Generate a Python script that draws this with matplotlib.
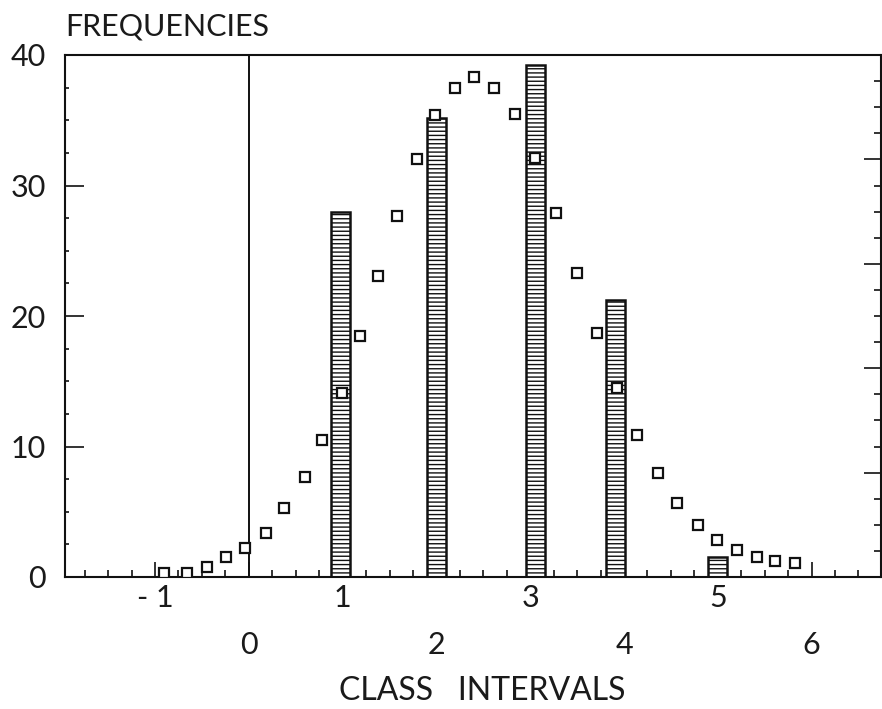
import matplotlib
matplotlib.use("Agg")
import matplotlib.pyplot as plt
from matplotlib.ticker import MultipleLocator, FixedLocator

# histogram bars (class intervals)
bar_x = [0.98, 2.0, 3.06, 3.91, 5.0]
bar_h = [28.0, 35.2, 39.2, 21.2, 1.5]

# fitted frequencies (open squares)
pt_x = [-0.90, -0.66, -0.45, -0.24, -0.04, 0.18, 0.38, 0.60, 0.78, 0.99,
        1.18, 1.38, 1.58, 1.79, 1.99, 2.20, 2.40, 2.61, 2.84, 3.05,
        3.27, 3.50, 3.71, 3.92, 4.14, 4.36, 4.57, 4.79, 4.99, 5.20,
        5.42, 5.61, 5.82]
pt_y = [0.3, 0.3, 0.8, 1.5, 2.2, 3.4, 5.3, 7.7, 10.5, 14.1,
        18.5, 23.1, 27.7, 32.0, 35.4, 37.5, 38.3, 37.5, 35.5, 32.1,
        27.9, 23.3, 18.7, 14.5, 10.9, 8.0, 5.7, 4.0, 2.8, 2.1,
        1.5, 1.2, 1.1]

x_ticks = [-1, 0, 1, 2, 3, 4, 5, 6]
y_ticks = [0, 10, 20, 30, 40]

ink = "#111111"
txt = "#1a1a1a"
plt.rcParams["hatch.linewidth"] = 1.0
plt.rcParams["font.family"] = ["Lato", "DejaVu Sans"]

fig = plt.figure(figsize=(8.82, 7.09), dpi=100)
ax = fig.add_axes([65 / 882, 1 - 577 / 709, 816 / 882, 522 / 709])

ax.bar(bar_x, bar_h, width=0.2, color="white", edgecolor=ink,
       hatch="----", linewidth=1.8, zorder=2)
ax.plot(pt_x, pt_y, ls="none", marker="s", ms=6.5, mfc="white", mec=ink,
        mew=1.6, zorder=3)
ax.axvline(0, color=ink, lw=1.4, zorder=1)

ax.set_xlim(-1.96, 6.74)
ax.set_ylim(0, 40)

for s in ax.spines.values():
    s.set_color(ink)
    s.set_linewidth(1.5)

ax.xaxis.set_major_locator(FixedLocator(x_ticks))
ax.xaxis.set_minor_locator(MultipleLocator(0.25))
ax.set_xticklabels([str(v).replace("-", "- ") for v in x_ticks])
ax.yaxis.set_major_locator(FixedLocator(y_ticks))
ax.yaxis.set_minor_locator(MultipleLocator(2.5))
ax.set_yticklabels([str(v) for v in y_ticks])

ax.tick_params(axis="both", which="both", direction="in", colors=ink,
               labelcolor=txt, labelsize=22, top=False, right=False)
ax.tick_params(axis="x", which="major", length=11, width=1.2, pad=5)
ax.tick_params(axis="x", which="minor", length=5, width=1.2)
ax.tick_params(axis="y", which="major", length=14, width=1.2, pad=14)
ax.tick_params(axis="y", which="minor", length=3, width=1.2)

# even labels sit on a second, lower row
for v, tick in zip(x_ticks, ax.xaxis.get_major_ticks()):
    if v % 2 == 0:
        tick.set_pad(39)

# right-hand scale, ticks only
ax2 = ax.twinx()
ax2.set_ylim(0, 5)
ax2.yaxis.set_major_locator(FixedLocator([1, 2, 3, 4]))
ax2.yaxis.set_minor_locator(MultipleLocator(0.25))
ax2.tick_params(axis="y", which="both", direction="in", colors=ink,
                labelright=False)
ax2.tick_params(axis="y", which="major", length=12, width=1.2)
ax2.tick_params(axis="y", which="minor", length=5, width=1.2)
for s in ax2.spines.values():
    s.set_visible(False)

fig.text(65 / 882, 1 - 27 / 709, "FREQUENCIES", ha="left", va="center",
         fontsize=22, color=txt)
fig.text(482 / 882, 1 - 691 / 709, "CLASS   INTERVALS", ha="center",
         va="center", fontsize=23, color=txt)

fig.savefig("out.png", dpi=100)
